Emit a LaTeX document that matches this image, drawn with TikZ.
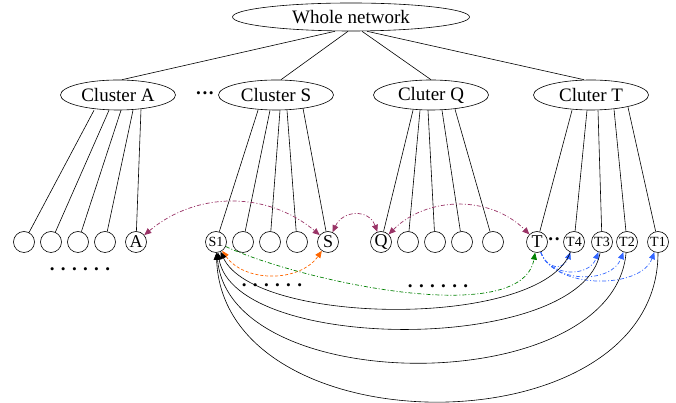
\documentclass[tikz,border=0pt]{standalone}
\usepackage{fontspec}
\setmainfont{Liberation Serif}
\usepackage{tikz}
\usetikzlibrary{shapes.geometric}
\usetikzlibrary{arrows.meta}
\definecolor{arcpurple}{RGB}{153,51,102}
\definecolor{arcorange}{RGB}{255,102,0}
\definecolor{arcgreen}{RGB}{0,128,0}
\definecolor{arcblue}{RGB}{51,102,255}

\begin{document}
\begin{tikzpicture}[x=1pt,y=1pt]
      \tikzstyle{link} = [draw=black, line width=0.6pt]
      \tikzstyle{group} = [
        ellipse,
        draw=black,
        line width=0.6pt,
        inner sep=0pt,
        minimum width=115pt,
        minimum height=30pt,
        font=\fontsize{19}{22}\selectfont,
      ]
      \tikzstyle{host} = [
        circle,
        draw=black,
        line width=0.6pt,
        inner sep=0pt,
        minimum size=21pt,
        font=\fontsize{18}{20}\selectfont,
      ]
      \tikzstyle{small} = [font=\fontsize{14}{16}\selectfont]
      \tikzstyle{dotdash} = [line width=0.7pt, dash pattern=on 4pt off 2pt on 1pt off 2pt]
      \tikzstyle{parc} = [dotdash, draw=arcpurple, <->, >={Triangle[length=7pt,width=6pt]}, arcpurple]
      \tikzstyle{oarc} = [line width=0.7pt, dash pattern=on 3pt off 2pt, draw=arcorange, <->, >={Triangle[length=7pt,width=6pt]}, arcorange]
      \tikzstyle{garc} = [dotdash, draw=arcgreen, ->, >={Triangle[length=7pt,width=6pt]}, arcgreen]
      \tikzstyle{barc} = [dotdash, draw=arcblue, ->, >={Triangle[length=7pt,width=6pt]}, arcblue]
      \tikzstyle{karc} = [line width=0.6pt, draw=black, ->, >={Triangle[length=7pt,width=6pt]}]
      \tikzstyle{dots} = [font=\fontsize{19}{22}\selectfont\bfseries]

      \useasboundingbox (0,0) rectangle (676,403);

      \node[ellipse, draw=black, line width=0.6pt, inner sep=0pt, minimum width=237pt, minimum height=28pt, font=\fontsize{19}{22}\selectfont] (whole) at (351,386) {Whole network};

      \node[group] (clA) at (118,308) {Cluster A};
      \node[group] (clS) at (276,308) {Cluster S};
      \node[group] (clQ) at (431,308) {Cluter Q};
      \node[group] (clT) at (591,308) {Cluter T};
      \node[dots] (gap) at (205,307) {\textperiodcentered\textperiodcentered\textperiodcentered};

      \node[host] (a1) at (24,161) {};
      \node[host] (a2) at (51,161) {};
      \node[host] (a3) at (78,161) {};
      \node[host] (a4) at (105,161) {};
      \node[host] (a) at (136,161) {A};
      \node[host, small] (s1) at (216,161) {S1};
      \node[host] (s2) at (243,161) {};
      \node[host] (s3) at (270,161) {};
      \node[host] (s4) at (297,161) {};
      \node[host] (s) at (328,161) {S};
      \node[host] (q) at (381,161) {Q};
      \node[host] (q2) at (408,161) {};
      \node[host] (q3) at (435,161) {};
      \node[host] (q4) at (462,161) {};
      \node[host] (q5) at (493,161) {};
      \node[host] (t) at (537,161) {T};
      \node[host, small] (t4) at (574,161) {T4};
      \node[host, small] (t3) at (602,161) {T3};
      \node[host, small] (t2) at (627,161) {T2};
      \node[host, small] (t1) at (658,161) {T1};
      \node[dots] (tgap) at (554,161) {\textperiodcentered\textperiodcentered};

      \node[dots] (dotsA) at (80,134) {. . . . . .};
      \node[dots] (dotsS) at (272,118) {. . . . . .};
      \node[dots] (dotsQ) at (438,117) {. . . . . .};

      \draw[link] ([xshift=-16pt]whole.south) -- ([xshift=4pt]clA.north);
      \draw[link] ([xshift=-3pt]whole.south) -- ([xshift=5pt]clS.north);
      \draw[link] ([xshift=11pt]whole.south) -- (clQ.north);
      \draw[link] ([xshift=16pt]whole.south) -- ([xshift=-7pt]clT.north);

      \draw[link] ([xshift=-24pt]clA.south) -- (a1);
      \draw[link] ([xshift=-9pt]clA.south) -- (a2);
      \draw[link] ([xshift=3pt]clA.south) -- (a3);
      \draw[link] ([xshift=15pt]clA.south) -- (a4);
      \draw[link] ([xshift=23pt,yshift=1pt]clA.south) -- (a);

      \draw[link] ([xshift=-18pt]clS.south) -- (s1);
      \draw[link] ([xshift=-6pt]clS.south) -- (s2);
      \draw[link] ([xshift=4pt]clS.south) -- (s3);
      \draw[link] ([xshift=11pt]clS.south) -- (s4);
      \draw[link] ([xshift=27pt,yshift=2pt]clS.south) -- (s);

      \draw[link] ([xshift=-18pt]clQ.south) -- (q);
      \draw[link] ([xshift=-11pt]clQ.south) -- (q2);
      \draw[link] ([xshift=-3pt]clQ.south) -- (q3);
      \draw[link] ([xshift=11pt]clQ.south) -- (q4);
      \draw[link] ([xshift=24pt,yshift=1pt]clQ.south) -- (q5);

      \draw[link] ([xshift=-19pt]clT.south) -- (t);
      \draw[link] ([xshift=-4pt]clT.south) -- (t4);
      \draw[link] ([xshift=7pt]clT.south) -- (t3);
      \draw[link] ([xshift=23pt,yshift=1pt]clT.south) -- (t2);
      \draw[link] ([xshift=37pt,yshift=3pt]clT.south) -- (t1);

      \draw[parc] (a) to[out=40,in=140] (s);
      \draw[parc] (s) to[out=65,in=110,looseness=1.4] (q);
      \draw[parc] (q) to[out=45,in=135] (t);

      \draw[oarc] (s1) to[out=-55,in=-125] (s);
      \draw[garc] (s1) to[out=-25,in=-100,looseness=0.65] (t);

      \draw[barc] (t) to[out=-70,in=-110,looseness=1.66] (t4);
      \draw[barc] (t) to[out=-70,in=-110,looseness=1.2] (t3);
      \draw[barc] (t) to[out=-70,in=-110,looseness=1.05] (t2);
      \draw[barc] (t) to[out=-70,in=-110,looseness=0.9] (t1);

      \draw[karc] (t4) to[out=-110,in=-65,looseness=0.6] (s1);
      \draw[karc] (t3) to[out=-100,in=-80,looseness=0.69] (s1);
      \draw[karc] (t2) to[out=-95,in=-85,looseness=0.92] (s1);
      \draw[karc] (t1) to[out=-90,in=-88,looseness=1.15] (s1);
    \end{tikzpicture}
\end{document}
